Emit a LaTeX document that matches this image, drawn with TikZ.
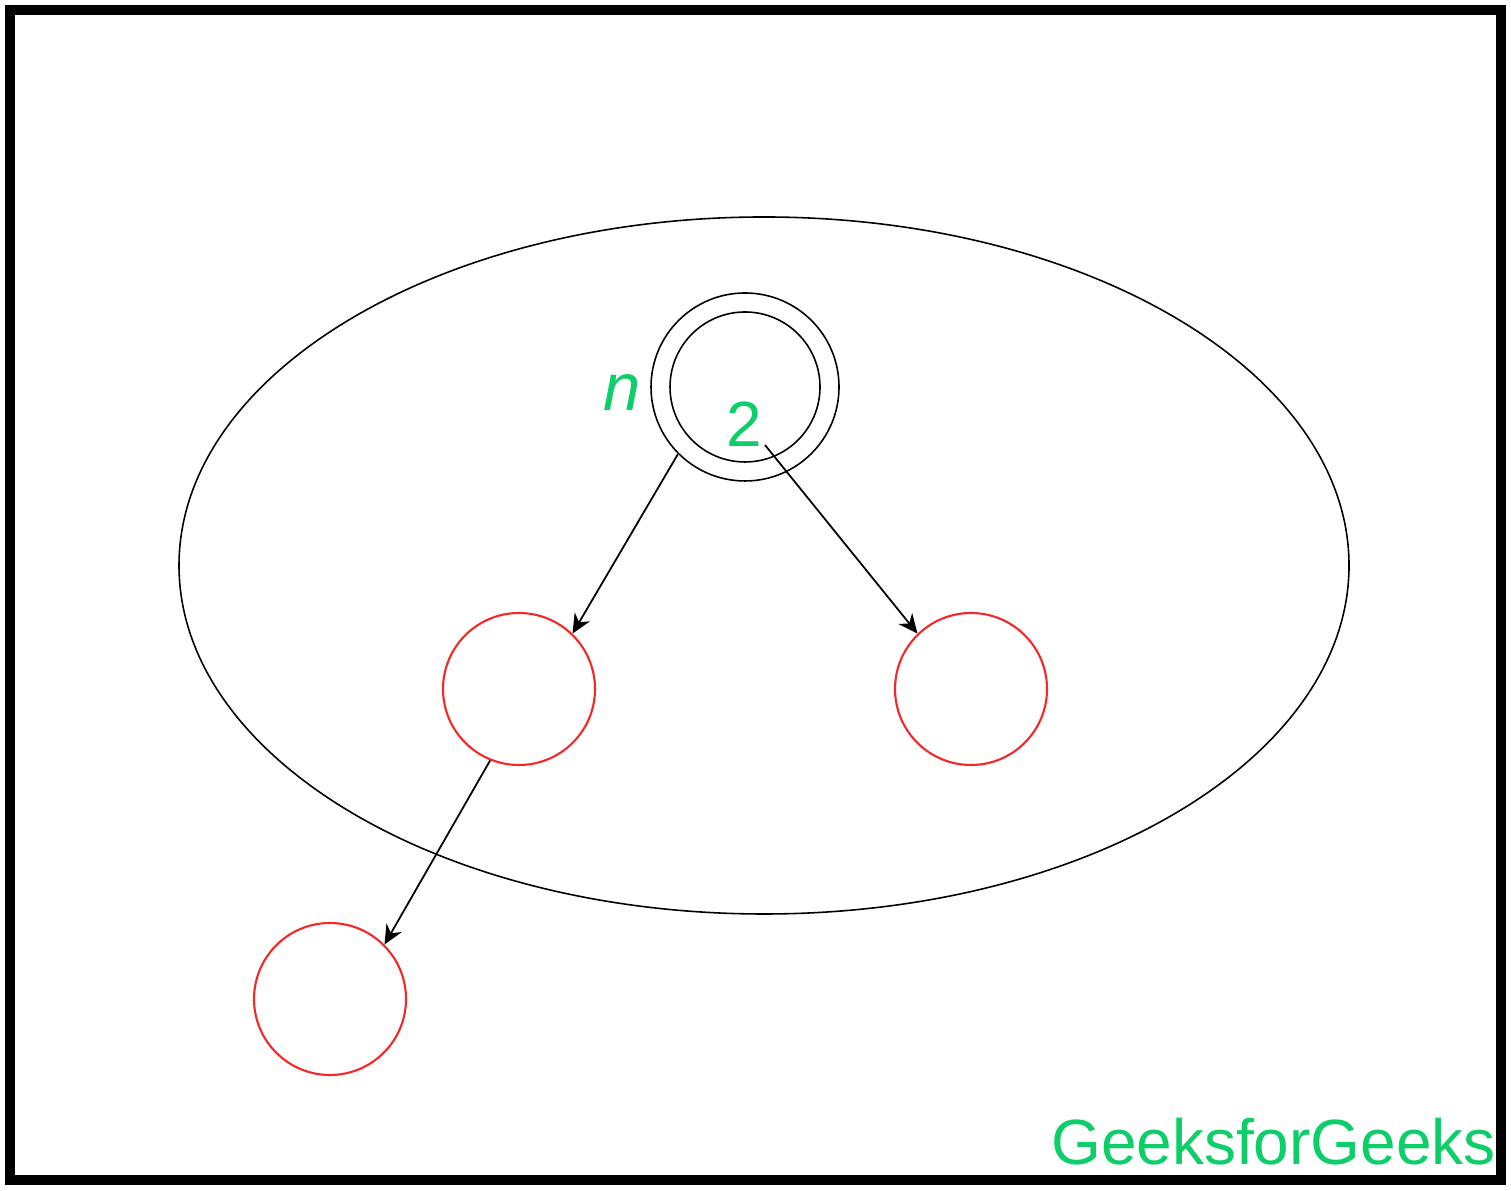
\documentclass[tikz,border=0pt]{standalone}
\usepackage{fontspec}
\setmainfont{Liberation Sans}
\usetikzlibrary{arrows.meta}
\definecolor{gfggreen}{RGB}{14,206,106}
\definecolor{kidred}{RGB}{245,40,40}

\begin{document}
\begin{tikzpicture}[
            ring/.style={draw, circle, inner sep=0pt, line width=0.45pt},
            kid/.style={draw=kidred, circle, inner sep=0pt, minimum size=1.52cm, line width=0.6pt},
            lbl/.style={text=gfggreen, inner sep=0pt, font=\fontsize{18.2}{20}\selectfont},
            arr/.style={-{Stealth[length=5.5pt,width=5pt]}, line width=0.5pt}
        ]
            \useasboundingbox (0,0) rectangle (15.11,11.9);
            \draw[line width=2.85pt] (0.10,0.10) rectangle (15.01,11.80);
            \draw[line width=0.45pt] (7.64,6.245) ellipse [x radius=5.85, y radius=3.485];

            \node[ring, minimum size=1.88cm] (outer) at (7.45,8.03) {};
            \node[ring, minimum size=1.50cm] (inner) at (7.45,8.03) {};
            \node[lbl, font=\fontsize{19}{21}\selectfont\itshape] (n) at (6.22,7.97) {n};
            \node[lbl] (two) at (7.44,7.66) {2};
            \coordinate (twoend) at (7.65,7.45);

            \node[kid] (left) at (5.19,5.01) {};
            \node[kid] (right) at (9.71,5.01) {};
            \node[kid] (low) at (3.30,1.91) {};

            \node[lbl] (gfg) at (12.735,0.48) {GeeksforGeeks};

            \draw[arr] (outer.225) -- (left.46);
            \draw[arr] (twoend) -- (right.134);
            \draw[arr] (left.248) -- (low.45);
        \end{tikzpicture}
\end{document}
